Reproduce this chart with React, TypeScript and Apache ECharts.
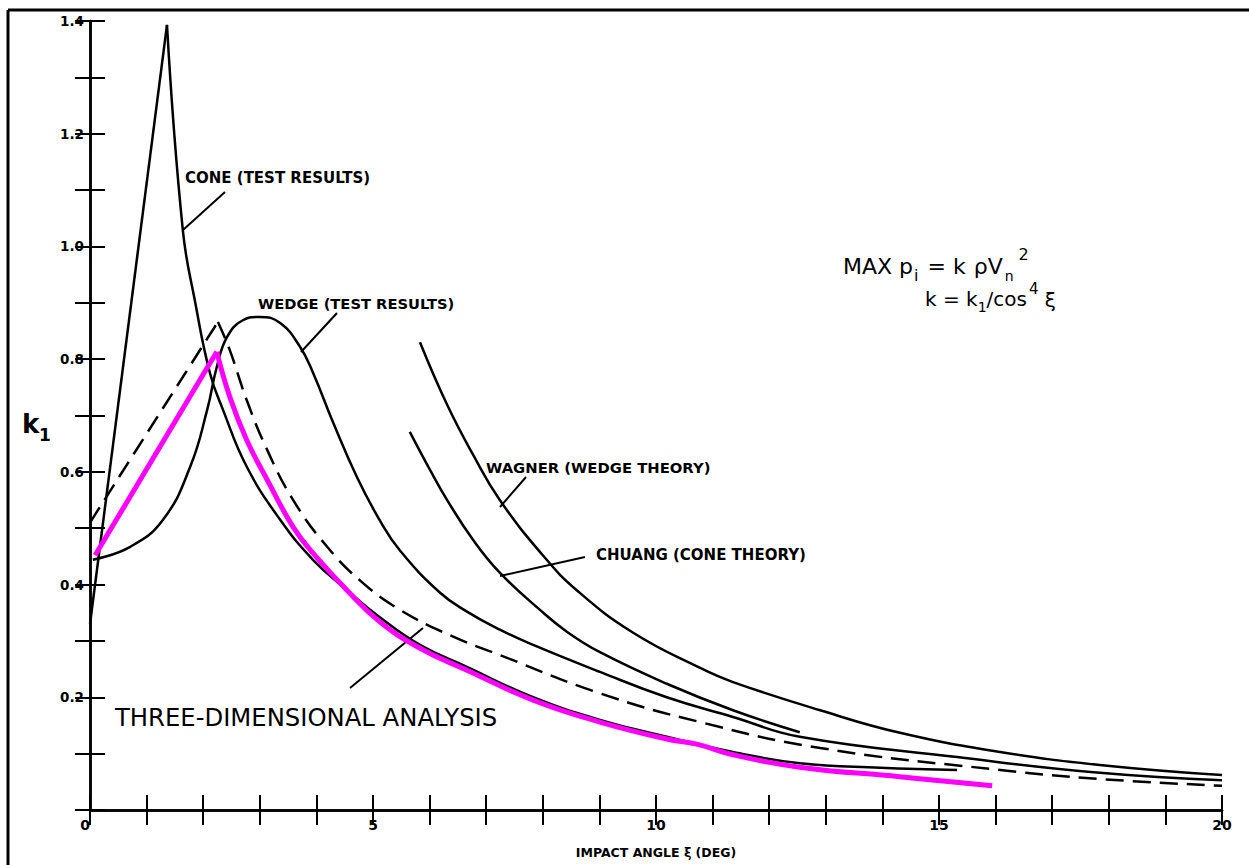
import React, { useEffect, useRef } from "react";
import * as echarts from "echarts";

// ---- data ----
const xLabeled = [0, 5, 10, 15, 20];
const yLabeled = [0.2, 0.4, 0.6, 0.8, 1.0, 1.2, 1.4];

const coneRise = [[0.0, 0.33], [1.36, 1.393]];
const coneFall = [
  [1.36, 1.393], [1.64, 1.029], [1.86, 0.9], [2.12, 0.775], [2.35, 0.71], [2.77, 0.609],
  [3.36, 0.515], [3.94, 0.444], [4.54, 0.39], [5.12, 0.342], [5.83, 0.293], [6.66, 0.254],
  [7.83, 0.2], [9.01, 0.16], [10.19, 0.13], [11.36, 0.103], [12.54, 0.083], [13.96, 0.075],
  [15.32, 0.071],
];
const wedgeTest = [
  [0.05, 0.444], [0.71, 0.467], [1.29, 0.515], [1.77, 0.609], [2.07, 0.71], [2.24, 0.786],
  [2.42, 0.839], [2.7, 0.869], [3.0, 0.875], [3.36, 0.864], [3.71, 0.822], [3.94, 0.776],
  [4.29, 0.689], [4.72, 0.59], [5.12, 0.514], [5.48, 0.46], [6.18, 0.386], [6.66, 0.352],
  [7.24, 0.32], [7.83, 0.293], [9.01, 0.245], [10.19, 0.2], [11.36, 0.165], [12.54, 0.13],
  [15.32, 0.094], [17.84, 0.066], [20, 0.053],
];
const dashedRise = [[0.0, 0.51], [2.26, 0.866]];
const dashedFall = [
  [2.26, 0.866], [2.47, 0.816], [2.77, 0.727], [3.13, 0.639], [3.59, 0.55], [4.19, 0.467],
  [4.82, 0.403], [5.48, 0.355], [6.36, 0.31], [7.24, 0.275], [9.01, 0.207], [10.78, 0.156],
  [12.9, 0.11], [16.08, 0.071], [17.84, 0.055], [20, 0.043],
];
const wagner = [
  [5.83, 0.83], [6.31, 0.719], [6.77, 0.63], [7.24, 0.55], [8.0, 0.452], [8.6, 0.39],
  [9.59, 0.315], [10.78, 0.252], [11.36, 0.227], [12.9, 0.177], [14.31, 0.137], [16.08, 0.103],
  [17.84, 0.08], [20, 0.062],
];
const chuang = [
  [5.65, 0.671], [6.01, 0.603], [6.31, 0.55], [6.77, 0.479], [7.24, 0.421], [7.95, 0.355],
  [8.43, 0.316], [9.01, 0.28], [10.19, 0.224], [11.36, 0.177], [12.54, 0.138],
];
const analysisRise = [[0.09, 0.452], [2.24, 0.813]];
const analysisFall = [
  [2.24, 0.813], [2.47, 0.733], [2.77, 0.656], [3.13, 0.586], [3.59, 0.502], [3.94, 0.456],
  [4.54, 0.39], [5.12, 0.334], [5.83, 0.287], [6.66, 0.248], [7.83, 0.195], [9.01, 0.156],
  [10.19, 0.126], [10.72, 0.117], [11.36, 0.098], [12.54, 0.076], [14.31, 0.059], [15.94, 0.043],
];

const FONT = '"DejaVu Sans", "Liberation Sans", sans-serif';

function measure(text: string, size: number, weight: string) {
  const c = document.createElement("canvas").getContext("2d")!;
  c.font = `${weight} ${size}px ${FONT}`;
  return c.measureText(text).width;
}

type Piece = { t: string; fs: number; dy: number; fw?: string; gap?: number };
function run(x: number, y: number, pieces: Piece[]) {
  const out: any[] = [];
  let cx = x;
  for (const p of pieces) {
    const fw = p.fw || "normal";
    cx += p.gap || 0;
    out.push({
      type: "text",
      x: cx,
      y: y + p.dy,
      style: {
        text: p.t,
        fontSize: p.fs,
        fontWeight: fw,
        fontFamily: FONT,
        fill: "#000",
        textAlign: "left",
        textVerticalAlign: "middle",
      },
    });
    cx += measure(p.t, p.fs, fw);
  }
  return out;
}

function label(x: number, y: number, text: string, fs = 13, fw = "bold") {
  return {
    type: "text",
    x,
    y,
    style: {
      text,
      fontSize: fs,
      fontWeight: fw,
      fontFamily: FONT,
      fill: "#000",
      textAlign: "left",
      textVerticalAlign: "middle",
    },
  };
}

// label whose font size is chosen so that it spans the given width
function fitLabel(x: number, y: number, text: string, width: number, fw = "bold") {
  const fs = (14 * width) / measure(text, 14, fw);
  return label(x, y, text, Math.round(fs * 10) / 10, fw);
}

function leader(x1: number, y1: number, x2: number, y2: number) {
  return {
    type: "line",
    shape: { x1, y1, x2, y2 },
    style: { stroke: "#000", lineWidth: 2 },
  };
}

export default function App() {
  const ref = useRef<HTMLDivElement>(null);
  useEffect(() => {
    const chart = echarts.init(ref.current!, undefined, { renderer: "svg" });
    const blk = { color: "#000", width: 2.5 };
    const line = (data: number[][], smooth: number | boolean, style: any = blk) => ({
      type: "line",
      data,
      smooth,
      showSymbol: false,
      symbol: "none",
      lineStyle: style,
      xAxisIndex: 0,
      yAxisIndex: 0,
    });
    const dashStyle = { color: "#000", width: 2.5, type: [18, 9] };
    const pinkStyle = { color: "#ff00ff", width: 5 };

    const tick = { inside: true, length: 15, lineStyle: { color: "#000", width: 2 } };
    const axLine = { show: true, lineStyle: { color: "#000", width: 2.5 } };

    chart.setOption({
      animation: false,
      backgroundColor: "#fff",
      grid: { left: 90, right: 27, top: 21, bottom: 55 },
      xAxis: [
        {
          type: "value",
          min: 0,
          max: 20,
          interval: 1,
          position: "bottom",
          axisLine: axLine,
          axisTick: tick,
          splitLine: { show: false },
          axisLabel: {
            margin: 8,
            fontSize: 14,
            fontWeight: "bold",
            fontFamily: FONT,
            color: "#000",
            alignMinLabel: "right",
            formatter: (v: number) => (xLabeled.includes(Math.round(v)) ? String(Math.round(v)) : ""),
          },
          name: "IMPACT ANGLE ξ (DEG)",
          nameLocation: "middle",
          nameGap: 36,
          nameTextStyle: { fontSize: 12.5, fontWeight: "bold", fontFamily: FONT, color: "#000" },
        },
        {
          type: "value",
          min: 0,
          max: 20,
          interval: 1,
          position: "top",
          axisLine: axLine,
          axisTick: tick,
          splitLine: { show: false },
          axisLabel: { show: false },
        },
      ],
      yAxis: [
        {
          type: "value",
          min: 0,
          max: 1.4,
          interval: 0.1,
          position: "left",
          axisLine: axLine,
          axisTick: tick,
          splitLine: { show: false },
          axisLabel: {
            margin: 6,
            fontSize: 13.5,
            fontWeight: "bold",
            fontFamily: FONT,
            color: "#000",
            formatter: (v: number) => {
              const r = Math.round(v * 10) / 10;
              return yLabeled.some((q) => Math.abs(q - r) < 1e-6) ? r.toFixed(1) : "";
            },
          },
        },
        {
          type: "value",
          min: 0,
          max: 1.4,
          interval: 0.1,
          position: "right",
          axisLine: axLine,
          axisTick: tick,
          splitLine: { show: false },
          axisLabel: { show: false },
        },
      ],
      series: [
        line(coneRise, false),
        line(coneFall, 0.45),
        line(wedgeTest, 0.45),
        line(dashedRise, false, dashStyle),
        line(dashedFall, 0.45, dashStyle),
        line(wagner, 0.45),
        line(chuang, 0.45),
        line(analysisRise, false, pinkStyle),
        line(analysisFall, 0.45, pinkStyle),
      ],
      graphic: [
        // outer frame
        { type: "line", shape: { x1: 8, y1: 10, x2: 1249, y2: 10 }, style: { stroke: "#000", lineWidth: 3 } },
        { type: "line", shape: { x1: 8, y1: 10, x2: 8, y2: 865 }, style: { stroke: "#000", lineWidth: 3 } },
        // y axis title k1
        label(22, 424, "k", 26, "bold"),
        label(39, 435, "1", 17, "bold"),
        // curve labels
        fitLabel(185, 178, "CONE (TEST RESULTS)", 185),
        leader(225, 192, 183, 230),
        fitLabel(258, 303, "WEDGE (TEST RESULTS)", 197),
        leader(337, 313, 301, 352),
        fitLabel(486, 467, "WAGNER (WEDGE THEORY)", 224),
        leader(526, 477, 500, 507),
        fitLabel(596, 555, "CHUANG (CONE THEORY)", 210),
        leader(585, 557, 500, 576),
        fitLabel(115, 717, "THREE-DIMENSIONAL ANALYSIS", 382, "normal"),
        leader(350, 688, 423, 628),
        // formula
        ...run(843, 266, [
          { t: "MAX p", fs: 22, dy: 0 },
          { t: "i", fs: 16, dy: 9, gap: 1 },
          { t: "= k", fs: 22, dy: 0, gap: 9 },
          { t: "ρ", fs: 22, dy: 0, gap: 8 },
          { t: "V", fs: 22, dy: 0 },
          { t: "n", fs: 14, dy: 10, gap: 2 },
          { t: "2", fs: 16, dy: -12, gap: 5 },
        ]),
        ...run(925, 299, [
          { t: "k = k", fs: 20, dy: 0 },
          { t: "1", fs: 14, dy: 8 },
          { t: "/cos", fs: 20, dy: 0 },
          { t: "4", fs: 15, dy: -10, gap: 2 },
          { t: " ξ", fs: 20, dy: 1 },
        ]),
      ],
    });
    return () => chart.dispose();
  }, []);
  return (
    <div
      ref={ref}
      style={{ position: "absolute", left: 0, top: 0, width: 1249, height: 865, background: "#fff" }}
    />
  );
}
